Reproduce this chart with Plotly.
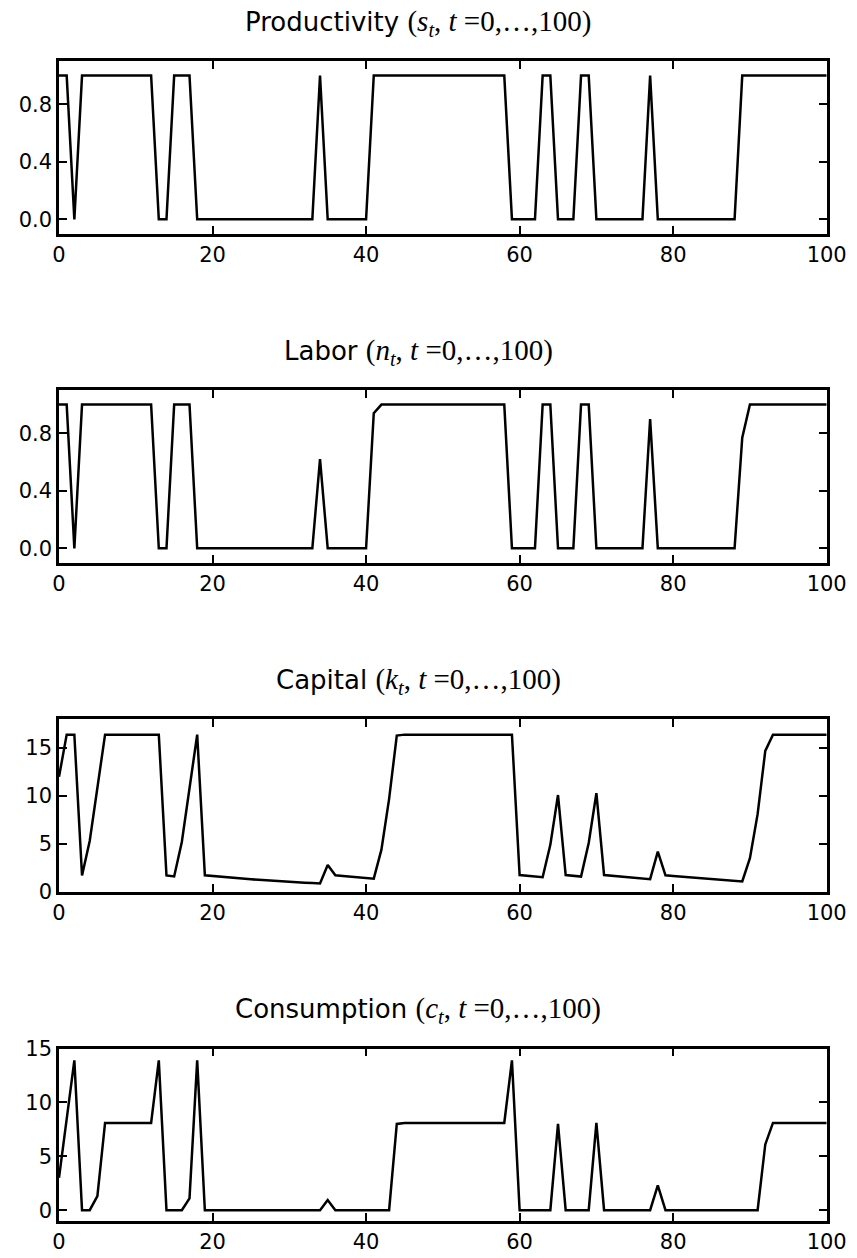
import plotly.graph_objects as go

t = list(range(101))

productivity = [1, 1, 0, 1, 1, 1, 1, 1, 1, 1, 1, 1, 1, 0, 0, 1, 1, 1, 0, 0,
                0, 0, 0, 0, 0, 0, 0, 0, 0, 0, 0, 0, 0, 0, 1, 0, 0, 0, 0, 0,
                0, 1, 1, 1, 1, 1, 1, 1, 1, 1, 1, 1, 1, 1, 1, 1, 1, 1, 1, 0,
                0, 0, 0, 1, 1, 0, 0, 0, 1, 1, 0, 0, 0, 0, 0, 0, 0, 1, 0, 0,
                0, 0, 0, 0, 0, 0, 0, 0, 0, 1, 1, 1, 1, 1, 1, 1, 1, 1, 1, 1,
                1]

labor = [1, 1, 0, 1, 1, 1, 1, 1, 1, 1, 1, 1, 1, 0, 0, 1, 1, 1, 0, 0,
         0, 0, 0, 0, 0, 0, 0, 0, 0, 0, 0, 0, 0, 0, 0.62, 0, 0, 0, 0, 0,
         0, 0.94, 1, 1, 1, 1, 1, 1, 1, 1, 1, 1, 1, 1, 1, 1, 1, 1, 1, 0,
         0, 0, 0, 1, 1, 0, 0, 0, 1, 1, 0, 0, 0, 0, 0, 0, 0, 0.90, 0, 0,
         0, 0, 0, 0, 0, 0, 0, 0, 0, 0.77, 1, 1, 1, 1, 1, 1, 1, 1, 1, 1,
         1]

capital = [12.0, 16.4, 16.4, 1.7, 5.3, 10.8, 16.4, 16.4, 16.4, 16.4,
           16.4, 16.4, 16.4, 16.4, 1.7, 1.6, 5.2, 10.7, 16.4, 1.72,
           1.64, 1.57, 1.50, 1.43, 1.37, 1.31, 1.25, 1.19, 1.14, 1.09,
           1.04, 0.99, 0.95, 0.91, 0.86, 2.8, 1.72, 1.64, 1.56, 1.49,
           1.43, 1.37, 4.4, 9.7, 16.3, 16.4, 16.4, 16.4, 16.4, 16.4,
           16.4, 16.4, 16.4, 16.4, 16.4, 16.4, 16.4, 16.4, 16.4, 16.4,
           1.75, 1.67, 1.59, 1.52, 4.9, 10.1, 1.75, 1.67, 1.59, 5.1,
           10.3, 1.75, 1.67, 1.59, 1.52, 1.45, 1.39, 1.32, 4.2, 1.72,
           1.64, 1.57, 1.50, 1.43, 1.37, 1.31, 1.25, 1.19, 1.14, 1.08,
           3.5, 8.1, 14.7, 16.4, 16.4, 16.4, 16.4, 16.4, 16.4, 16.4,
           16.4]

consumption = [3.0, 8.3, 13.9, 0, 0, 1.3, 8.1, 8.1, 8.1, 8.1,
               8.1, 8.1, 8.1, 13.9, 0, 0, 0, 1.1, 13.9, 0,
               0, 0, 0, 0, 0, 0, 0, 0, 0, 0,
               0, 0, 0, 0, 0, 0.95, 0, 0, 0, 0,
               0, 0, 0, 0, 8.0, 8.1, 8.1, 8.1, 8.1, 8.1,
               8.1, 8.1, 8.1, 8.1, 8.1, 8.1, 8.1, 8.1, 8.1, 13.9,
               0, 0, 0, 0, 0, 8.0, 0, 0, 0, 0,
               8.1, 0, 0, 0, 0, 0, 0, 0, 2.3, 0,
               0, 0, 0, 0, 0, 0, 0, 0, 0, 0,
               0, 0, 6.1, 8.1, 8.1, 8.1, 8.1, 8.1, 8.1, 8.1,
               8.1]

titles = ["Productivity", "Labor", "Capital", "Consumption"]
symbols = ["s", "n", "k", "c"]
series = [productivity, labor, capital, consumption]
y_ranges = [[-0.1, 1.1], [-0.1, 1.1], [0, 18], [-1, 15]]
y_ticks = [[0.0, 0.4, 0.8], [0.0, 0.4, 0.8], [0, 5, 10, 15], [0, 5, 10, 15]]
y_formats = [".1f", ".1f", "d", "d"]
x_ticks = [0, 20, 40, 60, 80, 100]

W, H = 857, 1258
x_left, x_right = 59, 826.7
panel_tops = [61.2, 390.2, 719.3, 1048.5]
panel_h = 172.5
title_cx = 418

fig = go.Figure()
layout = dict(
    width=W, height=H,
    margin=dict(l=0, r=0, t=0, b=0),
    paper_bgcolor="white", plot_bgcolor="white",
    showlegend=False,
    template="none",
    font=dict(family="DejaVu Sans", color="black"),
)
annotations = []
for i in range(4):
    sfx = "" if i == 0 else str(i + 1)
    fig.add_trace(go.Scatter(
        x=t, y=series[i], mode="lines",
        line=dict(color="black", width=2.5),
        xaxis="x" + sfx, yaxis="y" + sfx,
        hoverinfo="skip",
    ))
    top = panel_tops[i]
    bot = top + panel_h
    dom_y = [1 - bot / H, 1 - top / H]
    common = dict(
        showline=True, linecolor="black", linewidth=2.5, mirror="ticks",
        ticks="inside", ticklen=8, tickwidth=1.5, tickcolor="black",
        showgrid=False, zeroline=False, automargin=False,
        tickfont=dict(family="DejaVu Sans", size=21, color="black"),
    )
    layout["xaxis" + sfx] = dict(
        common, domain=[x_left / W, x_right / W], range=[0, 100],
        tickmode="array", tickvals=x_ticks,
        anchor="y" + sfx,
    )
    layout["yaxis" + sfx] = dict(
        common, domain=dom_y, range=y_ranges[i],
        tickmode="array", tickvals=y_ticks[i], tickformat=y_formats[i],
        anchor="x" + sfx,
    )
    sym = symbols[i]
    text = (titles[i] + " <span style='font-family:Liberation Serif;font-size:29px'>(<i>" + sym +
            "</i><sub><i>t</i></sub>, <i>t</i> =0,…,100)</span>")
    annotations.append(dict(
        text=text, x=title_cx / W, y=1 - (top - 38) / H,
        xref="paper", yref="paper", xanchor="center", yanchor="middle",
        showarrow=False, font=dict(family="DejaVu Sans", size=26, color="black"),
    ))
layout["annotations"] = annotations
fig.update_layout(**layout)

fig.write_html("out.html", config={"displayModeBar": False},
               post_script="document.body.style.margin='0';")
